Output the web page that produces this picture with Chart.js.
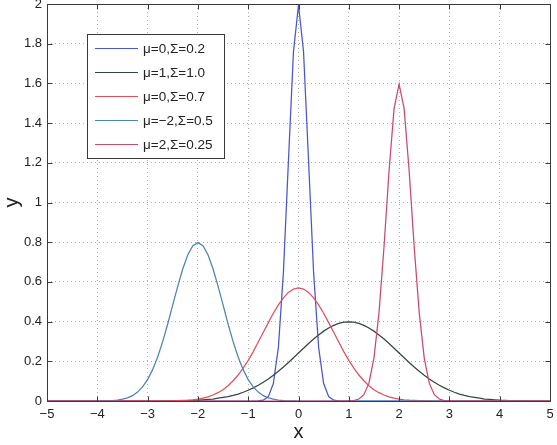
<!DOCTYPE html>
<html>
<head>
<meta charset="utf-8">
<script src="https://cdn.jsdelivr.net/npm/chart.js@4/dist/chart.umd.min.js"></script>
<style>
html,body{margin:0;padding:0;background:#fff;}
#wrap{width:557px;height:445px;position:relative;}
</style>
</head>
<body>
<div id="wrap"><canvas id="c" width="557" height="445"></canvas></div>
<script>
const xValues = [
 -5.0,-4.9,-4.8,-4.7,-4.6,-4.5,-4.4,-4.3,-4.2,-4.1,
 -4.0,-3.9,-3.8,-3.7,-3.6,-3.5,-3.4,-3.3,-3.2,-3.1,
 -3.0,-2.9,-2.8,-2.7,-2.6,-2.5,-2.4,-2.3,-2.2,-2.1,
 -2.0,-1.9,-1.8,-1.7,-1.6,-1.5,-1.4,-1.3,-1.2,-1.1,
 -1.0,-0.9,-0.8,-0.7,-0.6,-0.5,-0.4,-0.3,-0.2,-0.1,
 0.0,0.1,0.2,0.3,0.4,0.5,0.6,0.7,0.8,0.9,
 1.0,1.1,1.2,1.3,1.4,1.5,1.6,1.7,1.8,1.9,
 2.0,2.1,2.2,2.3,2.4,2.5,2.6,2.7,2.8,2.9,
 3.0,3.1,3.2,3.3,3.4,3.5,3.6,3.7,3.8,3.9,
 4.0,4.1,4.2,4.3,4.4,4.5,4.6,4.7,4.8,4.9,
 5.0];

const seriesLabels = ['\u03bc=0,\u03a3=0.2','\u03bc=1,\u03a3=1.0','\u03bc=0,\u03a3=0.7','\u03bc=\u22122,\u03a3=0.5','\u03bc=2,\u03a3=0.25'];
const seriesColors = ['#4a56cc','#34483c','#e0505c','#4a84b8','#c84a6c'];

const yMu0S02 = [
 0,0,0,0,0,0,0,0,0,0,
 0,0,0,0,0,0,0,0,0,0,
 0,0,0,0,0,0,0,0,0,0,
 0,0,0,0,0,0,0,0,0,0,
 0,0,0.001,0.004,0.022,0.088,0.270,0.648,1.210,1.760,
 1.995,1.760,1.210,0.648,0.270,0.088,0.022,0.004,0.001,0,
 0,0,0,0,0,0,0,0,0,0,
 0,0,0,0,0,0,0,0,0,0,
 0,0,0,0,0,0,0,0,0,0,
 0,0,0,0,0,0,0,0,0,0,
 0];
const yMu1S10 = [
 0,0,0,0,0,0,0,0,0,0,
 0,0,0,0,0,0,0,0,0,0,
 0,0,0,0,0.001,0.001,0.001,0.002,0.002,0.003,
 0.004,0.006,0.008,0.010,0.014,0.018,0.022,0.028,0.035,0.044,
 0.054,0.066,0.079,0.094,0.111,0.130,0.150,0.171,0.194,0.218,
 0.242,0.266,0.290,0.312,0.333,0.352,0.368,0.381,0.391,0.397,
 0.399,0.397,0.391,0.381,0.368,0.352,0.333,0.312,0.290,0.266,
 0.242,0.218,0.194,0.171,0.150,0.130,0.111,0.094,0.079,0.066,
 0.054,0.044,0.035,0.028,0.022,0.018,0.014,0.010,0.008,0.006,
 0.004,0.003,0.002,0.002,0.001,0.001,0.001,0,0,0,
 0];
const yMu0S07 = [
 0,0,0,0,0,0,0,0,0,0,
 0,0,0,0,0,0,0,0,0,0,
 0,0,0,0,0.001,0.001,0.002,0.003,0.004,0.006,
 0.010,0.014,0.021,0.030,0.042,0.057,0.077,0.102,0.131,0.166,
 0.205,0.249,0.297,0.346,0.395,0.442,0.484,0.520,0.547,0.564,
 0.570,0.564,0.547,0.520,0.484,0.442,0.395,0.346,0.297,0.249,
 0.205,0.166,0.131,0.102,0.077,0.057,0.042,0.030,0.021,0.014,
 0.010,0.006,0.004,0.003,0.002,0.001,0.001,0,0,0,
 0,0,0,0,0,0,0,0,0,0,
 0,0,0,0,0,0,0,0,0,0,
 0];
const yMuM2S05 = [
 0,0,0,0,0,0,0,0,0,0,
 0,0.001,0.001,0.002,0.005,0.009,0.016,0.027,0.045,0.071,
 0.108,0.158,0.222,0.299,0.388,0.484,0.579,0.666,0.737,0.782,
 0.798,0.782,0.737,0.666,0.579,0.484,0.388,0.299,0.222,0.158,
 0.108,0.071,0.045,0.027,0.016,0.009,0.005,0.002,0.001,0.001,
 0,0,0,0,0,0,0,0,0,0,
 0,0,0,0,0,0,0,0,0,0,
 0,0,0,0,0,0,0,0,0,0,
 0,0,0,0,0,0,0,0,0,0,
 0,0,0,0,0,0,0,0,0,0,
 0];
const yMu2S025 = [
 0,0,0,0,0,0,0,0,0,0,
 0,0,0,0,0,0,0,0,0,0,
 0,0,0,0,0,0,0,0,0,0,
 0,0,0,0,0,0,0,0,0,0,
 0,0,0,0,0,0,0,0,0,0,
 0,0,0,0,0,0,0,0,0,0,
 0.001,0.002,0.010,0.032,0.090,0.216,0.444,0.777,1.159,1.473,
 1.596,1.473,1.159,0.777,0.444,0.216,0.090,0.032,0.010,0.002,
 0.001,0,0,0,0,0,0,0,0,0,
 0,0,0,0,0,0,0,0,0,0,
 0];

const seriesValues = [yMu0S02, yMu1S10, yMu0S07, yMuM2S05, yMu2S025];
const xTicks = [-5,-4,-3,-2,-1,0,1,2,3,4,5];
const yTicks = [0,0.2,0.4,0.6,0.8,1,1.2,1.4,1.6,1.8,2];

const FONT = '"Liberation Sans", Arial, Helvetica, sans-serif';

const framePlugin = {
  id: 'frame',
  afterDatasetsDraw(chart) {
    const {ctx, chartArea: a, scales} = chart;
    ctx.save();
    ctx.strokeStyle = '#3a3a3a';
    ctx.lineWidth = 1;
    ctx.beginPath();
    const L = Math.round(a.left) + 0.5, R = Math.round(a.right) + 0.5;
    const T = Math.round(a.top) + 0.5, B = Math.round(a.bottom) + 0.5;
    ctx.rect(L, T, R - L, B - T);
    const tl = 5;
    scales.x.ticks.forEach(t => {
      const px = Math.round(scales.x.getPixelForValue(t.value)) + 0.5;
      ctx.moveTo(px, B); ctx.lineTo(px, B - tl);
      ctx.moveTo(px, T); ctx.lineTo(px, T + tl);
    });
    scales.y.ticks.forEach(t => {
      const py = Math.round(scales.y.getPixelForValue(t.value)) + 0.5;
      ctx.moveTo(L, py); ctx.lineTo(L + tl, py);
      ctx.moveTo(R, py); ctx.lineTo(R - tl, py);
    });
    ctx.stroke();

    // legend box
    const bx = 87.5, by = 34.5, bw = 137, bh = 124;
    ctx.fillStyle = '#ffffff';
    ctx.fillRect(bx, by, bw, bh);
    ctx.strokeStyle = '#3a3a3a';
    ctx.strokeRect(bx, by, bw, bh);
    ctx.font = '13.5px ' + FONT;
    ctx.textBaseline = 'middle';
    ctx.textAlign = 'left';
    chart.data.datasets.forEach((ds, i) => {
      const yy = 48 + i * 24;
      ctx.strokeStyle = ds.borderColor;
      ctx.lineWidth = 1.2;
      ctx.beginPath();
      ctx.moveTo(95, yy + 0.5); ctx.lineTo(138, yy + 0.5);
      ctx.stroke();
      ctx.fillStyle = '#222';
      ctx.fillText(ds.label, 143, yy + 1);
    });
    ctx.restore();
  }
};

const datasets = seriesValues.map((vals, i) => ({
  label: seriesLabels[i],
  data: xValues.map((x, j) => ({x: x, y: vals[j]})),
  borderColor: seriesColors[i],
  backgroundColor: seriesColors[i],
  borderWidth: 1.25,
  pointRadius: 0,
  tension: 0,
  fill: false,
  order: 4 - i
}));

new Chart(document.getElementById('c'), {
  type: 'line',
  data: { datasets },
  options: {
    responsive: false,
    animation: false,
    devicePixelRatio: 1,
    layout: { padding: { top: 4, right: 7, left: 0, bottom: 0 } },
    plugins: { legend: { display: false }, tooltip: { enabled: false } },
    scales: {
      x: {
        type: 'linear', min: -5, max: 5,
        afterBuildTicks(s) { s.ticks = xTicks.map(v => ({value: v})); },
        afterFit(s) { s.height = 44; s.paddingLeft = 0; s.paddingRight = 0; },
        ticks: {
          color: '#222', font: { family: FONT, size: 13 }, padding: 6, maxRotation: 0,
          callback: v => String(v).replace('-', '\u2212')
        },
        grid: { color: '#b0b0b0', lineWidth: 1, drawTicks: false },
        border: { display: false, dash: [1, 3] },
        title: { display: true, text: 'x', color: '#222', font: { family: FONT, size: 20 }, padding: { top: 0, bottom: 1 } }
      },
      y: {
        type: 'linear', min: 0, max: 2,
        afterBuildTicks(s) { s.ticks = yTicks.map(v => ({value: v})); },
        afterFit(s) { s.width = 47; s.paddingTop = 0; s.paddingBottom = 0; },
        ticks: {
          color: '#222', font: { family: FONT, size: 13 }, padding: 5,
          callback: v => String(v)
        },
        grid: { color: '#b0b0b0', lineWidth: 1, drawTicks: false },
        border: { display: false, dash: [1, 3] },
        title: { display: true, text: 'y', color: '#222', font: { family: FONT, size: 20 }, padding: { top: 0, bottom: 0 } }
      }
    }
  },
  plugins: [framePlugin]
});
</script>
</body>
</html>
